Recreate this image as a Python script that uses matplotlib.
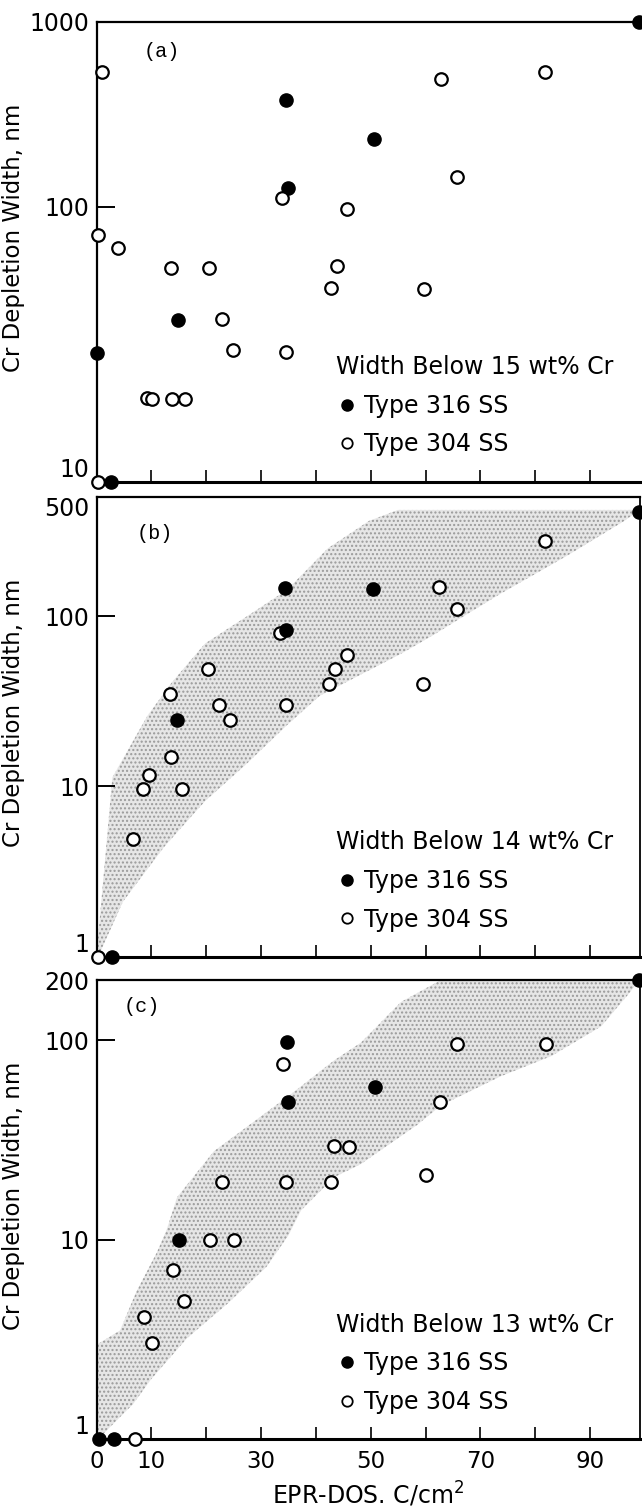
import numpy as np
import matplotlib
matplotlib.use("Agg")
import matplotlib.pyplot as plt
from matplotlib.lines import Line2D
from matplotlib.ticker import FixedLocator, FixedFormatter, NullLocator

# ---------------- data ----------------
# Panel (a): width below 15 wt% Cr
a316_x = [99.0, 34.6, 50.6, 34.9, 14.8, 0.1, 2.6]
a316_y = [1000, 377, 231, 126, 38.7, 29.3, 10]
a304_x = [1.0, 33.9, 45.7, 0.3, 4.0, 62.9, 81.8, 65.7, 13.6, 20.6, 43.8, 42.7,
          59.7, 22.8, 24.8, 34.6, 9.2, 10.1, 13.7, 16.2, 0.3]
a304_y = [537, 112, 98, 79, 71, 490, 537, 144, 60, 60, 61, 50.5,
          50, 39, 30, 29.6, 20.1, 20, 19.9, 19.9, 10]

# Panel (b): width below 14 wt% Cr
b316_x = [34.3, 34.5, 14.7, 50.5, 99.0, 2.8]
b316_y = [146, 83, 24.4, 145, 410, 1]
b304_x = [33.4, 20.4, 43.5, 42.4, 13.4, 22.4, 34.5, 24.3, 13.6, 9.5, 8.4, 15.6,
          6.6, 0.3, 81.7, 62.5, 65.7, 45.6, 59.6]
b304_y = [79, 49, 49, 40, 34.8, 30, 30, 24.6, 14.9, 11.7, 9.7, 9.7,
          4.9, 1, 274, 148, 110, 59, 40]
b_band_up_x = [0.3, 2.9, 9.3, 13.8, 19.8, 27.3, 34.8, 42.2, 49.7, 55.0, 99.0]
b_band_up_y = [1.3, 11.3, 26, 41, 69, 99, 143, 250, 362, 420, 420]
b_band_lo_x = [0.3, 4.8, 12.3, 19.8, 27.3, 34.8, 40.7, 55.5, 61.6, 67.0, 73.8, 86.0, 96.3, 99.0]
b_band_lo_y = [1.0, 2.1, 4.4, 8.2, 13.5, 23, 34, 60, 78, 100, 136, 228, 363, 420]

# Panel (c): width below 13 wt% Cr
c316_x = [34.8, 34.9, 15.1, 50.7, 99.0, 0.5, 3.2]
c316_y = [98, 49, 10, 58, 200, 1, 1]
c304_x = [34.0, 43.3, 46.0, 22.9, 34.5, 42.8, 20.7, 25.0, 13.9, 16.0, 8.7, 10.1,
          7.0, 65.7, 82.0, 62.7, 60.1]
c304_y = [76, 29.4, 29.2, 19.4, 19.4, 19.4, 10, 10, 7.0, 4.9, 4.07, 3.03,
          1, 96, 96, 49, 21.1]
c_band_up_x = [0.3, 4.3, 7.3, 11.0, 12.8, 14.7, 21.4, 28.7, 36.0, 43.3, 48.2, 55.5, 62.8, 99.0]
c_band_up_y = [3.0, 3.5, 5.5, 8.6, 11.2, 16.3, 27.7, 39, 55, 79, 97, 155, 200, 200]
c_band_lo_x = [0.3, 6.7, 10.0, 16.5, 24.0, 31.0, 35.0, 37.3, 43.3, 48.2, 58.5, 62.8,
               73.8, 82.9, 92.0, 97.0, 99.0]
c_band_lo_y = [1.0, 1.5, 2.0, 3.2, 4.8, 7.3, 10.5, 14, 20.5, 23.9, 37.6, 47,
               66, 83, 117, 170, 200]

x_ticks = [0, 10, 20, 30, 40, 50, 60, 70, 80, 90]
x_ticklabels = ["0", "10", "", "30", "", "50", "", "70", "", "90"]
a_yticks = [10, 100, 1000]
b_yticks = [1, 10, 100, 500]
c_yticks = [1, 10, 100, 200]
titles = ["Width Below 15 wt% Cr", "Width Below 14 wt% Cr", "Width Below 13 wt% Cr"]
panel_tags = ["(a)", "(b)", "(c)"]
series_names = ["Type 316 SS", "Type 304 SS"]


# piecewise log axis of panel (a) as drawn in the original figure
SPLIT = 0.598
def fwd_a(y):
    y = np.asarray(y, dtype=float)
    with np.errstate(divide="ignore", invalid="ignore"):
        t = np.log10(np.where(y > 0, y, 1e-300))
    return np.where(t <= 2, (t - 1) * SPLIT, SPLIT + (t - 2) * (1 - SPLIT))

def inv_a(f):
    f = np.asarray(f, dtype=float)
    t = np.where(f <= SPLIT, 1 + f / SPLIT, 2 + (f - SPLIT) / (1 - SPLIT))
    return 10 ** t


fig = plt.figure(figsize=(6.42, 15.12), dpi=100)
W, H = 642.0, 1512.0
left = 96.5 / W
width = (640 - 96.5) / W
tops = [21.7, 497.0, 980.0]
bots = [481.7, 956.7, 1439.0]
axes = [fig.add_axes([left, (H - b) / H, width, (b - t) / H]) for t, b in zip(tops, bots)]

FS = 17

def style(ax, yticks, ylim, show_x):
    ax.set_xlim(0, 99.1)
    ax.set_ylim(*ylim)
    ax.yaxis.set_major_locator(FixedLocator(yticks))
    ax.yaxis.set_major_formatter(FixedFormatter([str(v) for v in yticks]))
    ax.yaxis.set_minor_locator(NullLocator())
    ax.xaxis.set_major_locator(FixedLocator(x_ticks))
    ax.xaxis.set_minor_locator(NullLocator())
    if show_x:
        ax.xaxis.set_major_formatter(FixedFormatter(x_ticklabels))
    else:
        ax.xaxis.set_major_formatter(FixedFormatter([""] * len(x_ticks)))
    ax.tick_params(axis="x", direction="in", length=9, width=1.2, labelsize=16.5,
                   pad=8, top=False)
    ax.tick_params(axis="y", direction="in", length=13, width=1.4, labelsize=FS,
                   pad=5, right=False)
    ax.spines["left"].set_linewidth(1.6)
    ax.spines["bottom"].set_linewidth(2.2)
    ax.spines["top"].set_linewidth(1.6)
    ax.spines["right"].set_linewidth(1.3)
    ax.set_ylabel("Cr Depletion Width, nm", fontsize=16.5)
    ax.yaxis.set_label_coords(-0.132, 0.53)
    # lowest tick label sits just above the axis corner, as in the original
    ax.yaxis.get_major_ticks()[0].label1.set_va("bottom")


def band(ax, ux, uy, lx, ly):
    xs = np.r_[np.asarray(ux, float), np.asarray(lx, float)[::-1]]
    ys = np.r_[np.asarray(uy, float), np.asarray(ly, float)[::-1]]
    ax.fill(xs, ys, facecolor="#e6e6e6", edgecolor="#9a9a9a", hatch="....",
            linewidth=0, zorder=0)


def points(ax, x316, y316, x304, y304, filled_on_top=False):
    z316, z304 = (4, 3) if filled_on_top else (3, 4)
    ax.plot(x316, y316, ls="none", marker="o", ms=9.5, color="black",
            zorder=z316, clip_on=False)
    ax.plot(x304, y304, ls="none", marker="o", ms=9.0, mfc="white", mec="black",
            mew=1.6, zorder=z304, clip_on=False)


def legend(ax, title):
    handles = [Line2D([], [], ls="none", marker="o", ms=8, color="black"),
               Line2D([], [], ls="none", marker="o", ms=7.5, mfc="white",
                      mec="black", mew=1.3)]
    leg = ax.legend(handles, series_names, title=title, loc="upper left",
                    bbox_to_anchor=(0.44, 0.275), frameon=False, fontsize=FS,
                    title_fontsize=FS, handlelength=1.0, handletextpad=0.2,
                    labelspacing=0.62, borderaxespad=0, borderpad=0,
                    alignment="left")
    leg.get_title().set_fontsize(FS)


# panel (a)
ax = axes[0]
ax.set_yscale("function", functions=(fwd_a, inv_a))
style(ax, a_yticks, (10, 1000), False)
ax.spines["right"].set_visible(False)
points(ax, a316_x, a316_y, a304_x, a304_y, filled_on_top=False)
legend(ax, titles[0])

# panel (b)
ax = axes[1]
ax.set_yscale("log")
style(ax, b_yticks, (1, 500), False)
ax.yaxis.get_major_ticks()[-1].label1.set_va("top")
band(ax, b_band_up_x, b_band_up_y, b_band_lo_x, b_band_lo_y)
points(ax, b316_x, b316_y, b304_x, b304_y, filled_on_top=True)
legend(ax, titles[1])

# panel (c)
ax = axes[2]
ax.set_yscale("log")
style(ax, c_yticks, (1, 200), True)
band(ax, c_band_up_x, c_band_up_y, c_band_lo_x, c_band_lo_y)
points(ax, c316_x, c316_y, c304_x, c304_y)
legend(ax, titles[2])
ax.set_xlabel("EPR-DOS. C/cm$^2$", fontsize=17, labelpad=5)

tag_pos = [(0.12, 0.935), (0.108, 0.921), (0.083, 0.942)]
for ax, tag, (tx, ty) in zip(axes, panel_tags, tag_pos):
    ax.text(tx, ty, tag, transform=ax.transAxes, fontsize=14.5,
            family="Liberation Mono", va="center", ha="center")

fig.savefig("out.png", dpi=100)
